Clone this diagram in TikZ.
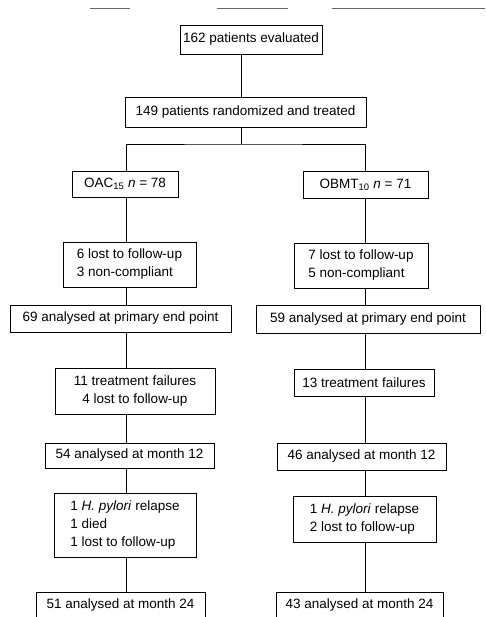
\documentclass[tikz,border=0pt]{standalone}
\usepackage{fontspec}
\setmainfont{Liberation Sans}
\usepackage{tikz}

\begin{document}
\begin{tikzpicture}[
  x=1pt, y=-1pt,
  box/.style={draw, line width=0.8pt, inner sep=0pt, align=left,
    font=\fontsize{13.5}{18}\selectfont},
  link/.style={line width=0.8pt},
  rule/.style={line width=1pt, black!60}
]
\useasboundingbox (0,0) rectangle (485,617);
\clip (0,0) rectangle (485,617);

% --- scanned rule at the top ---
\draw[rule] (90,9) -- (130,9);
\draw[rule] (217,9) -- (288,9);
\draw[rule] (332,9) -- (485,9);

% --- Spines ---
\coordinate (ms) at (241,0);
\coordinate (ls) at (126,0);
\coordinate (rs) at (365,0);
\coordinate (split) at (241,144);

% --- Top ---
\node[box, minimum width=142, minimum height=29] (ev)   at (251,39.5) {162 patients evaluated};
\node[box, minimum width=241, minimum height=30] (rand) at (245.5,112) {149 patients randomized and treated};

% --- Arms ---
\node[box, minimum width=106, minimum height=26] (oac)  at (125,184)   {OAC\textsubscript{15} \textit{n} = 78};
\node[box, minimum width=125, minimum height=27] (obmt) at (365.5,184.5) {OBMT\textsubscript{10} \textit{n} = 71};

% --- Left column ---
\node[box, minimum width=133, minimum height=45] (l1) at (129.5,264.5) {6 lost to follow-up\\3 non-compliant};
\node[box, minimum width=221, minimum height=27] (l2) at (120.5,318.5) {69 analysed at primary end point};
\node[box, minimum width=160, minimum height=46, align=center] (l3) at (135,391) {11 treatment failures\\4 lost to follow-up};
\node[box, minimum width=169, minimum height=25] (l4) at (129.5,455.5) {54 analysed at month 12};
\node[box, minimum width=142, minimum height=64] (l5) at (125,525) {1 \textit{H. pylori} relapse\\1 died\\1 lost to follow-up};
\node[box, minimum width=169, minimum height=27] (l6) at (120.5,605.5) {51 analysed at month 24};

% --- Right column ---
\node[box, minimum width=134, minimum height=45] (r1) at (361,265.5) {7 lost to follow-up\\5 non-compliant};
\node[box, minimum width=224, minimum height=28] (r2) at (368,319) {59 analysed at primary end point};
\node[box, minimum width=140, minimum height=27] (r3) at (364,382.5) {13 treatment failures};
\node[box, minimum width=169, minimum height=27] (r4) at (361.5,456.5) {46 analysed at month 12};
\node[box, minimum width=143, minimum height=46] (r5) at (364.5,519) {1 \textit{H. pylori} relapse\\2 lost to follow-up};
\node[box, minimum width=167, minimum height=27] (r6) at (359.5,605.5) {43 analysed at month 24};

% --- Connectors ---
\draw[link] (ev.south -| ms) -- (rand.north -| ms);
\draw[link] (rand.south -| ms) -- (split);
\draw[link] (oac.north -| ls) |- (split) -| (obmt.north -| rs);

\draw[link] (oac.south -| ls) -- (l1.north -| ls);
\draw[link] (l1.south -| ls) -- (l2.north -| ls);
\draw[link] (l2.south -| ls) -- (l3.north -| ls);
\draw[link] (l3.south -| ls) -- (l4.north -| ls);
\draw[link] (l4.south -| ls) -- (l5.north -| ls);
\draw[link] (l5.south -| ls) -- (l6.north -| ls);

\draw[link] (obmt.south -| rs) -- (r1.north -| rs);
\draw[link] (r1.south -| rs) -- (r2.north -| rs);
\draw[link] (r2.south -| rs) -- (r3.north -| rs);
\draw[link] (r3.south -| rs) -- (r4.north -| rs);
\draw[link] (r4.south -| rs) -- (r5.north -| rs);
\draw[link] (r5.south -| rs) -- (r6.north -| rs);

\end{tikzpicture}
\end{document}
